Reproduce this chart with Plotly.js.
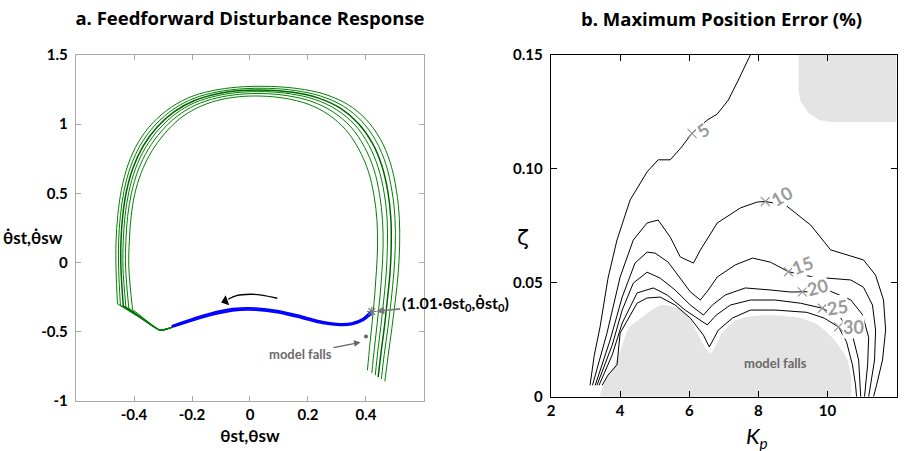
<!DOCTYPE html>
<html><head><meta charset="utf-8">
<script src="https://cdn.plot.ly/plotly-3.0.1.min.js"></script>
<style>body{margin:0;background:#fff}#c{width:904px;height:451px}</style>
</head><body><div id="c"></div>
<script>
// ---------- Panel a: phase portrait, green loops from outer to inner ----------
const g1x = [0.465, 0.476, 0.489, 0.501, 0.511, 0.516, 0.515, 0.505, 0.484, 0.45, 0.4, 0.335, 0.255, 0.165, 0.07, -0.02, -0.11, -0.195, -0.27, -0.335, -0.385, -0.42, -0.443, -0.456, -0.462, -0.462, -0.457, -0.383, -0.31, -0.27];
const g1y = [-0.86, -0.68, -0.48, -0.28, -0.08, 0.12, 0.32, 0.52, 0.72, 0.89, 1.035, 1.145, 1.218, 1.257, 1.273, 1.271, 1.25, 1.205, 1.125, 1.01, 0.87, 0.71, 0.53, 0.34, 0.15, -0.05, -0.3, -0.395, -0.49, -0.47];
const g2x = [0.453, 0.463, 0.476, 0.487, 0.496, 0.501, 0.5, 0.49, 0.469, 0.435, 0.386, 0.322, 0.244, 0.156, 0.064, -0.024, -0.111, -0.193, -0.265, -0.327, -0.376, -0.411, -0.434, -0.447, -0.453, -0.453, -0.447, -0.378, -0.31, -0.27];
const g2y = [-0.844, -0.664, -0.468, -0.272, -0.076, 0.12, 0.316, 0.512, 0.708, 0.876, 1.02, 1.13, 1.203, 1.243, 1.259, 1.256, 1.234, 1.187, 1.107, 0.994, 0.856, 0.698, 0.522, 0.338, 0.152, -0.046, -0.308, -0.399, -0.49, -0.47];
const g3x = [0.442, 0.452, 0.464, 0.474, 0.483, 0.487, 0.486, 0.476, 0.455, 0.422, 0.373, 0.31, 0.234, 0.148, 0.059, -0.028, -0.112, -0.191, -0.261, -0.32, -0.368, -0.403, -0.426, -0.439, -0.445, -0.445, -0.437, -0.374, -0.31, -0.27];
const g3y = [-0.83, -0.65, -0.457, -0.265, -0.072, 0.12, 0.312, 0.505, 0.697, 0.863, 1.007, 1.117, 1.19, 1.23, 1.246, 1.243, 1.22, 1.171, 1.091, 0.98, 0.843, 0.687, 0.515, 0.336, 0.154, -0.042, -0.315, -0.403, -0.49, -0.47];
const g4x = [0.432, 0.441, 0.452, 0.462, 0.47, 0.474, 0.473, 0.463, 0.442, 0.409, 0.362, 0.299, 0.225, 0.14, 0.054, -0.031, -0.113, -0.19, -0.256, -0.313, -0.36, -0.395, -0.418, -0.431, -0.437, -0.438, -0.428, -0.37, -0.31, -0.27];
const g4y = [-0.816, -0.636, -0.447, -0.258, -0.069, 0.12, 0.309, 0.498, 0.687, 0.852, 0.994, 1.104, 1.178, 1.219, 1.235, 1.231, 1.206, 1.156, 1.076, 0.966, 0.832, 0.677, 0.508, 0.335, 0.156, -0.039, -0.322, -0.406, -0.49, -0.47];
const g5x = [0.42, 0.429, 0.439, 0.448, 0.455, 0.459, 0.457, 0.447, 0.427, 0.394, 0.348, 0.286, 0.214, 0.131, 0.048, -0.035, -0.114, -0.188, -0.251, -0.305, -0.351, -0.386, -0.409, -0.422, -0.428, -0.429, -0.418, -0.366, -0.31, -0.27];
const g5y = [-0.8, -0.62, -0.435, -0.25, -0.065, 0.12, 0.305, 0.49, 0.675, 0.838, 0.979, 1.089, 1.163, 1.205, 1.221, 1.216, 1.19, 1.138, 1.058, 0.95, 0.818, 0.665, 0.5, 0.333, 0.158, -0.035, -0.33, -0.41, -0.49, -0.47];
const g6x = [0.405, 0.413, 0.422, 0.43, 0.436, 0.44, 0.438, 0.428, 0.408, 0.375, 0.33, 0.27, 0.2, 0.12, 0.04, -0.04, -0.115, -0.185, -0.245, -0.295, -0.34, -0.375, -0.398, -0.41, -0.416, -0.418, -0.405, -0.36, -0.31, -0.27];
const g6y = [-0.78, -0.6, -0.42, -0.24, -0.06, 0.12, 0.3, 0.48, 0.66, 0.82, 0.96, 1.07, 1.145, 1.187, 1.203, 1.198, 1.17, 1.115, 1.035, 0.93, 0.8, 0.65, 0.49, 0.33, 0.16, -0.03, -0.34, -0.415, -0.49, -0.47];
const cornerIdx = 26;   // sharp knee at the lower left of every loop

const bX  = [0.42, 0.39, 0.35, 0.31, 0.25, 0.18, 0.1, 0.02, -0.06, -0.14, -0.21, -0.27];
const b1y = [-0.345, -0.405, -0.438, -0.443, -0.428, -0.389, -0.349, -0.329, -0.334, -0.369, -0.414, -0.458];
const b2y = [-0.358, -0.412, -0.444, -0.449, -0.435, -0.397, -0.357, -0.337, -0.342, -0.377, -0.421, -0.464];
const b3y = [-0.371, -0.42, -0.45, -0.455, -0.442, -0.405, -0.365, -0.345, -0.35, -0.385, -0.428, -0.469];

const arcX = [0.094, 0.04, 0, -0.046, -0.075];
const arcY = [-0.259, -0.236, -0.230, -0.240, -0.266];
const headPt = [-0.085, -0.279];
const initPt = [0.42, -0.355];
const fallPt = [0.40, -0.535];

const aXTicks = [-0.4, -0.2, 0, 0.2, 0.4];
const aXText  = ['-0.4', '-0.2', '0', '0.2', '0.4'];
const aYTicks = [-1, -0.5, 0, 0.5, 1, 1.5];
const aYText  = ['-1', '-0.5', '0', '0.5', '1', '1.5'];

// ---------- Panel b: contour lines of max position error ----------
const c5x  = [3.13, 3.25, 3.42, 3.65, 3.91, 4.29, 4.78, 5.1, 5.45, 5.75, 6.08, 6.52, 6.81, 7.13, 7.42, 7.77];
const c5y  = [0.005, 0.018, 0.0306, 0.052, 0.0688, 0.0863, 0.0986, 0.1039, 0.1039, 0.109, 0.1155, 0.1213, 0.124, 0.1301, 0.1389, 0.15];
const c10x = [3.2, 3.62, 4.0, 4.38, 4.78, 5.1, 5.45, 5.74, 6.12, 6.32, 6.81, 7.48, 7.97, 8.2, 8.78, 9.51, 10.09, 10.29, 11.04, 11.39, 11.62, 11.68, 11.59, 11.42, 11.33];
const c10y = [0.005, 0.0279, 0.0525, 0.0687, 0.0762, 0.0775, 0.07, 0.0613, 0.0586, 0.0643, 0.0762, 0.0828, 0.0854, 0.0856, 0.0841, 0.0753, 0.0644, 0.0635, 0.06, 0.0533, 0.0424, 0.0292, 0.0161, 0.0052, 0];
const c15x = [3.28, 3.71, 4.06, 4.43, 4.78, 5.01, 5.39, 5.74, 6.03, 6.32, 6.55, 6.81, 7.33, 7.83, 8.35, 8.87, 9.59, 10.67, 11.04, 11.3, 11.39, 11.36, 11.25, 11.19];
const c15y = [0.005, 0.0248, 0.0437, 0.0586, 0.0634, 0.063, 0.059, 0.052, 0.046, 0.0424, 0.0468, 0.0525, 0.0578, 0.0608, 0.059, 0.0548, 0.0525, 0.0512, 0.048, 0.0402, 0.0292, 0.0161, 0.0052, 0];
const c20x = [3.33, 3.77, 4.06, 4.38, 4.78, 5.16, 5.59, 6.03, 6.41, 6.67, 7.04, 7.62, 8.35, 8.93, 9.27, 10.09, 10.67, 11.01, 11.19, 11.16, 11.07];
const c20y = [0.005, 0.0226, 0.038, 0.0498, 0.0546, 0.052, 0.0468, 0.0402, 0.0358, 0.0402, 0.0446, 0.0477, 0.0468, 0.0459, 0.046, 0.0462, 0.0425, 0.036, 0.026, 0.014, 0];
const c25x = [3.39, 3.77, 4.06, 4.49, 4.96, 5.36, 5.88, 6.32, 6.52, 6.78, 7.19, 7.77, 8.49, 9.22, 9.85, 10.38, 10.72, 10.9, 10.96];
const c25y = [0.005, 0.0183, 0.0323, 0.0455, 0.0477, 0.0446, 0.038, 0.0336, 0.0315, 0.0358, 0.0402, 0.0424, 0.0424, 0.041, 0.0388, 0.0345, 0.027, 0.0161, 0];
const c30x = [3.48, 3.65, 3.91, 4.0, 4.49, 4.78, 5.16, 5.59, 6.03, 6.41, 6.58, 6.84, 7.25, 7.77, 8.49, 9.4, 9.9, 10.32, 10.55, 10.72, 10.81, 10.84];
const c30y = [0.005, 0.0095, 0.014, 0.0279, 0.041, 0.0433, 0.0437, 0.0402, 0.0345, 0.027, 0.0218, 0.0292, 0.0345, 0.038, 0.038, 0.037, 0.0345, 0.0306, 0.024, 0.014, 0.0052, 0];

const levels = ['5', '10', '15', '20', '25', '30'];
const labK   = [6.08, 8.2, 8.87, 9.27, 9.85, 10.32];
const labZ   = [0.1155, 0.0856, 0.0548, 0.046, 0.0388, 0.0306];

const fallK = [3.36, 3.5, 3.71, 3.91, 4.0, 4.23, 4.58, 4.96, 5.16, 5.36, 5.74, 6.03, 6.32, 6.61, 6.9, 7.28, 7.77, 8.43, 9.22, 9.71, 10.17, 10.58, 10.72, 10.72];
const fallZ = [0, 0.006, 0.0118, 0.0175, 0.0218, 0.0306, 0.035, 0.039, 0.0406, 0.0406, 0.0389, 0.035, 0.0263, 0.0197, 0.0279, 0.0336, 0.0358, 0.0363, 0.0351, 0.0323, 0.0262, 0.0174, 0.0086, 0];
const topK = [9.16, 9.16, 9.217, 9.432, 9.768, 10.087, 12, 12];
const topZ = [0.15, 0.1345, 0.1297, 0.1246, 0.1214, 0.1205, 0.1205, 0.15];

const bXTicks = [2, 4, 6, 8, 10, 12];
const bYTicks = [0, 0.05, 0.10, 0.15];
const bYText  = ['0', '0.05', '0.10', '0.15'];

// ---------- traces ----------
const GREEN = 'rgb(0,128,0)';
const traces = [];
[[g1x,g1y],[g2x,g2y],[g3x,g3y],[g4x,g4y],[g5x,g5y],[g6x,g6y]].forEach(function(p, i){
  const col = (i === 2 ? 'rgb(0,100,0)' : GREEN);
  const w = (i === 2 ? 1.5 : 1);
  traces.push({x:p[0].slice(0, cornerIdx + 1), y:p[1].slice(0, cornerIdx + 1), xaxis:'x', yaxis:'y', mode:'lines', line:{color:col, width:w, shape:'spline', smoothing:1}, hoverinfo:'skip'});
  traces.push({x:p[0].slice(cornerIdx), y:p[1].slice(cornerIdx), xaxis:'x', yaxis:'y', mode:'lines', line:{color:col, width:w, shape:'spline', smoothing:0.5}, hoverinfo:'skip'});
});
[b1y,b2y,b3y].forEach(function(by){
  traces.push({x:bX, y:by, xaxis:'x', yaxis:'y', mode:'lines', line:{color:'rgb(0,0,255)', width:1.6, shape:'spline', smoothing:0.8}, hoverinfo:'skip'});
});
traces.push({x:arcX, y:arcY, xaxis:'x', yaxis:'y', mode:'lines', line:{color:'#000', width:1.3, shape:'spline'}, hoverinfo:'skip'});
traces.push({x:[headPt[0]], y:[headPt[1]], xaxis:'x', yaxis:'y', mode:'markers', marker:{symbol:'triangle-left', size:9, angle:-20, color:'#000'}, hoverinfo:'skip'});
traces.push({x:[initPt[0]], y:[initPt[1]], xaxis:'x', yaxis:'y', mode:'markers', marker:{symbol:'asterisk-open', size:8, color:'#777', line:{color:'#777', width:1.2}}, hoverinfo:'skip'});
traces.push({x:[fallPt[0]], y:[fallPt[1]], xaxis:'x', yaxis:'y', mode:'markers', marker:{symbol:'circle', size:4, color:'#666'}, hoverinfo:'skip'});

// panel b
traces.push({x:topK, y:topZ, xaxis:'x2', yaxis:'y2', mode:'lines', fill:'toself', fillcolor:'#e4e4e4', line:{color:'#e4e4e4', width:0}, hoverinfo:'skip'});
traces.push({x:fallK, y:fallZ, xaxis:'x2', yaxis:'y2', mode:'lines', fill:'toself', fillcolor:'#e4e4e4', line:{color:'#ffffff', width:2.5, shape:'spline', smoothing:0.6}, hoverinfo:'skip'});
[[c5x,c5y],[c10x,c10y],[c15x,c15y],[c20x,c20y],[c25x,c25y],[c30x,c30y]].forEach(function(c){
  traces.push({x:c[0], y:c[1], xaxis:'x2', yaxis:'y2', mode:'lines', line:{color:'#000', width:1}, hoverinfo:'skip'});
});
traces.push({x:labK, y:labZ, xaxis:'x2', yaxis:'y2', mode:'markers', marker:{symbol:'x-thin', size:9, color:'#999', line:{color:'#999', width:1.2}}, hoverinfo:'skip'});

// ---------- annotations ----------
const FONT = 'Lato, "Open Sans", "DejaVu Sans", sans-serif';
const TFONT = '"Open Sans", Lato, sans-serif';
const ann = [];
ann.push({xref:'paper', yref:'paper', x:0.7976, y:0.96, text:'b. Maximum Position Error (%)', showarrow:false, xanchor:'center', yanchor:'middle', font:{family:TFONT, size:18.5, weight:'bold', color:'#000'}});
ann.push({xref:'paper', yref:'paper', x:0.0365, y:0.4745, text:'θ̇st,θ̇sw', showarrow:false, xanchor:'center', yanchor:'middle', font:{family:FONT, size:17, weight:'bold', color:'#000'}});
ann.push({xref:'paper', yref:'paper', x:0.837, y:0.031, text:'<i>K</i><sub><i>p</i></sub>', showarrow:false, xanchor:'center', yanchor:'middle', font:{family:FONT, size:22, color:'#000'}});
ann.push({xref:'paper', yref:'paper', x:0.5785, y:0.4745, text:'ζ', showarrow:false, xanchor:'center', yanchor:'middle', font:{family:'"DejaVu Sans", sans-serif', size:22, color:'#000'}});
// initial condition label
ann.push({xref:'x', yref:'y', x:initPt[0]+0.005, y:initPt[1], text:'(1.01·θst<sub>0</sub>,θ̇st<sub>0</sub>)', showarrow:true, ax:82, ay:-8, arrowhead:2, arrowsize:1, arrowwidth:1.6, arrowcolor:'#777', standoff:3, font:{family:FONT, size:16, weight:'bold', color:'#000'}});
// model falls (a)
ann.push({xref:'x', yref:'y', x:fallPt[0]-0.012, y:fallPt[1]-0.04, text:'model falls', showarrow:true, ax:-62, ay:12, arrowhead:2, arrowsize:1, arrowwidth:1.3, arrowcolor:'#666', standoff:2, font:{family:FONT, size:13, weight:'bold', color:'#6a6a6a'}});
// model falls (b)
ann.push({xref:'x2', yref:'y2', x:8.5, y:0.0149, text:'model falls', showarrow:false, font:{family:FONT, size:13, weight:'bold', color:'#6a6a6a'}});
// contour labels (number placed just right of the gray cross)
const labDx = [11, 16, 14, 15, 15, 15];
const labDy = [3, 6, 7, 5, 1, 0];
const labAng = [-35, -30, -20, -15, -8, 0];
for (let i = 0; i < levels.length; i++) {
  ann.push({xref:'x2', yref:'y2', x:labK[i], y:labZ[i], text:levels[i], showarrow:false, xshift:labDx[i], yshift:labDy[i], textangle:labAng[i], bgcolor:'#fff', borderpad:0, font:{family:FONT, size:18, weight:'bold', color:'#9a9a9a'}});
}

// ---------- layout ----------
const tickFont = {family:FONT, size:15, weight:'bold', color:'#000'};
const layout = {
  width:904, height:451, margin:{l:0, r:0, t:0, b:0}, showlegend:false,
  paper_bgcolor:'#fff', plot_bgcolor:'#fff',
  title:{text:'a. Feedforward Disturbance Response', x:0.2765, xanchor:'center', xref:'paper', y:0.96, yanchor:'middle', yref:'paper', font:{family:TFONT, size:18.5, weight:'bold', color:'#000'}},
  xaxis:{domain:[0.0841, 0.469], range:[-0.6, 0.6], anchor:'y', tickvals:aXTicks, ticktext:aXText, ticks:'inside', ticklen:5, tickcolor:'#aaa', linecolor:'#aaa', linewidth:1.2, mirror:'ticks', showgrid:false, zeroline:false, tickfont:tickFont,
         title:{text:'θst,θsw', standoff:8, font:{family:FONT, size:17, weight:'bold', color:'#000'}}},
  yaxis:{domain:[0.1115, 0.878], range:[-1, 1.5], anchor:'x', tickvals:aYTicks, ticktext:aYText, ticks:'inside', ticklen:5, tickcolor:'#aaa', linecolor:'#aaa', linewidth:1.2, mirror:'ticks', showgrid:false, zeroline:false, tickfont:tickFont, ticklabelstandoff:4},
  xaxis2:{domain:[0.6095, 0.9919], range:[2, 12], anchor:'y2', tickvals:bXTicks, ticks:'inside', ticklen:6, tickcolor:'#000', linecolor:'#000', linewidth:1.2, mirror:'ticks', showgrid:false, zeroline:false, tickfont:tickFont},
  yaxis2:{domain:[0.1204, 0.8787], range:[0, 0.15], anchor:'x2', tickvals:bYTicks, ticktext:bYText, ticks:'inside', ticklen:6, tickcolor:'#000', linecolor:'#000', linewidth:1.2, mirror:'ticks', showgrid:false, zeroline:false, tickfont:tickFont, ticklabelstandoff:4},
  annotations:ann
};
Plotly.newPlot('c', traces, layout, {staticPlot:true, displayModeBar:false});
</script></body></html>
